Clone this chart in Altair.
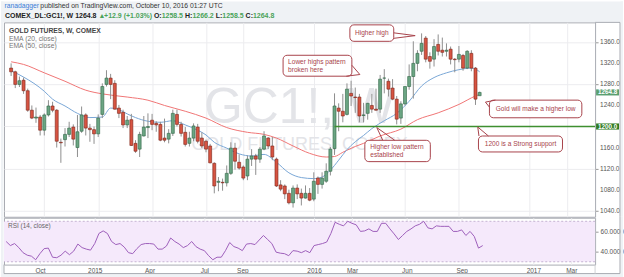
import altair as alt
import pandas as pd

# ---------------- data ----------------
week_start = "2014-08-11"
opens = [1311, 1304, 1280, 1288, 1268, 1231, 1216, 1218, 1193, 1222, 1239, 1231, 1170, 1175, 1185, 1199, 1160, 1191, 1222, 1197,
         1194, 1186, 1223, 1280, 1292, 1282, 1235, 1227, 1203, 1213, 1168, 1157, 1182, 1198, 1212, 1206, 1204, 1178, 1176, 1187,
         1223, 1204, 1189, 1168, 1178, 1199, 1178, 1172, 1163, 1130, 1094, 1094, 1093, 1111, 1159, 1132, 1123, 1106, 1138, 1144,
         1138, 1157, 1178, 1163, 1138, 1089, 1087, 1073, 1055, 1083, 1073, 1064, 1073, 1062, 1102, 1090, 1096, 1115, 1158, 1235,
         1229, 1223, 1263, 1256, 1256, 1221, 1225, 1240, 1233, 1233, 1292, 1286, 1273, 1252, 1216, 1243, 1276, 1295, 1320, 1343,
         1368, 1333, 1328, 1356, 1345, 1343, 1347, 1328, 1328, 1335, 1311, 1339, 1311, 1258.5]
highs = [1320, 1306, 1295, 1293, 1272, 1240, 1236, 1222, 1225, 1250, 1247, 1233, 1177, 1197, 1209, 1204, 1222, 1238, 1225, 1205,
         1200, 1223, 1282, 1307, 1300, 1288, 1241, 1232, 1220, 1224, 1174, 1190, 1220, 1225, 1224, 1210, 1209, 1215, 1195, 1232,
         1232, 1209, 1199, 1190, 1206, 1205, 1189, 1175, 1167, 1132, 1104, 1101, 1126, 1170, 1169, 1147, 1126, 1145, 1157, 1148,
         1161, 1191, 1180, 1180, 1141, 1098, 1090, 1080, 1088, 1090, 1082, 1088, 1083, 1113, 1105, 1113, 1130, 1161, 1263, 1244,
         1262, 1282, 1287, 1274, 1262, 1245, 1245, 1262, 1272, 1298, 1309, 1291, 1290, 1258, 1248, 1276, 1318, 1362, 1345, 1377,
         1372, 1341, 1366, 1375, 1369, 1358, 1352, 1330, 1353, 1338, 1345, 1345, 1313, 1266.2]
lows = [1296, 1273, 1275, 1262, 1228, 1214, 1207, 1183, 1183, 1219, 1227, 1160, 1131, 1162, 1180, 1164, 1142, 1188, 1183, 1171,
        1167, 1180, 1216, 1276, 1252, 1232, 1216, 1197, 1197, 1163, 1150, 1142, 1181, 1178, 1193, 1190, 1172, 1170, 1168, 1182,
        1200, 1181, 1162, 1162, 1172, 1168, 1159, 1151, 1130, 1073, 1077, 1078, 1086, 1108, 1118, 1118, 1098, 1098, 1125, 1108,
        1131, 1155, 1157, 1136, 1085, 1077, 1062, 1052, 1046, 1062, 1050, 1063, 1058, 1058, 1072, 1082, 1093, 1107, 1146, 1191,
        1208, 1221, 1239, 1226, 1208, 1208, 1213, 1226, 1230, 1226, 1263, 1257, 1250, 1204, 1205, 1240, 1270, 1253, 1305, 1336,
        1322, 1310, 1314, 1335, 1333, 1333, 1318, 1303, 1322, 1306, 1309, 1305, 1241, 1258.5]
closes = [1304, 1280, 1287, 1268, 1231, 1216, 1218, 1193, 1222, 1239, 1231, 1172, 1169, 1185, 1197, 1176, 1190, 1222, 1197, 1194,
          1186, 1216, 1276, 1292, 1280, 1233, 1225, 1203, 1212, 1164, 1153, 1185, 1199, 1200, 1204, 1203, 1174, 1174, 1187, 1225,
          1204, 1187, 1166, 1178, 1201, 1172, 1163, 1157, 1131, 1087, 1096, 1093, 1111, 1159, 1134, 1121, 1102, 1138, 1144, 1138,
          1157, 1182, 1163, 1142, 1087, 1081, 1072, 1055, 1083, 1072, 1064, 1073, 1060, 1096, 1090, 1102, 1115, 1157, 1239, 1229,
          1220, 1271, 1258, 1255, 1220, 1222, 1244, 1233, 1231, 1290, 1292, 1271, 1252, 1214, 1243, 1276, 1295, 1320, 1339, 1358,
          1328, 1324, 1352, 1343, 1341, 1345, 1328, 1327, 1337, 1311, 1343, 1311, 1252, 1264.8]

ema20_weeks = [1, 4, 9, 11, 14, 17, 20, 23, 25, 27, 29, 31, 34, 37, 40, 43, 46, 48, 50, 53, 56, 59, 62, 65, 68, 71,
               74, 76, 78, 80, 82, 84, 86, 88, 91, 94, 97, 100, 103, 106, 109, 112, 113, 114]
ema20_vals = [1306, 1294, 1267, 1252, 1239, 1225, 1217, 1218, 1235, 1232, 1224, 1217, 1210, 1208, 1211, 1203, 1193, 1184,
              1170, 1159, 1148, 1144, 1147, 1132, 1112, 1103, 1101, 1104, 1117, 1136, 1156, 1171, 1183, 1196, 1211, 1225,
              1248, 1277, 1293, 1302, 1308, 1311, 1309, 1304]
ema50_weeks = [1, 4, 9, 14, 19, 23, 29, 34, 38, 43, 48, 53, 58, 62, 65, 69, 73, 77, 79, 81, 84, 86, 90, 95, 99, 104,
               109, 113, 114]
ema50_vals = [1323, 1318, 1302, 1286, 1269, 1262, 1256, 1250, 1240, 1229, 1216, 1198, 1189, 1185, 1178, 1163, 1149, 1142,
              1143, 1151, 1162, 1168, 1182, 1195, 1213, 1226, 1242, 1258, 1261]
rsi_vals = [50, 46, 48, 44, 39, 36.5, 35.5, 32, 38, 43, 43.5, 34.5, 34, 36.5, 40.5, 37, 40.5, 47.5, 44, 42.5,
            41.5, 48, 58, 60.5, 58, 50, 47, 48, 44.5, 39, 38, 43, 47, 48, 48, 47.5, 42.5, 42.5, 45.5, 53.5,
            50, 47.5, 44, 46, 50, 45, 42.5, 41, 36, 32, 34.5, 34.5, 41, 49, 45, 43.5, 41, 47.5, 48, 47,
            51.5, 56, 52, 48, 39.5, 38.5, 38, 36, 41, 40.5, 39, 41, 39, 46, 47, 48, 49.5, 58, 69, 67,
            65.5, 70, 68, 66.5, 60, 60.5, 62.5, 60, 60, 68, 68, 62.5, 57.5, 52, 56, 60, 62.5, 65.5, 67, 70,
            63.5, 62.5, 65.5, 65, 65, 65, 60, 60, 61.5, 56, 60, 55, 43.5, 46]

tick_dates = [(2014, 10, 6), (2015, 1, 5), (2015, 4, 6), (2015, 7, 6), (2015, 9, 7), (2016, 1, 4),
              (2016, 3, 7), (2016, 6, 6), (2016, 9, 5), (2017, 1, 2), (2017, 3, 6)]
price_ticks = [1040, 1080, 1120, 1160, 1200, 1240, 1280, 1320, 1360]
price_labels = ["1040.0", "1080.0", "1120.0", "1160.0", "", "1240.0", "1280.0", "1320.0", "1360.0"]
rsi_ticks = [40, 60]
support_level = 1200
support_start = "2016-02-08"
last_price = 1264.8

# ---------------- tables ----------------
n = len(opens)
dates = [d.strftime("%Y-%m-%d") for d in pd.date_range(week_start, periods=n, freq="7D")]
cdf = pd.DataFrame({"date": dates, "open": opens, "high": highs, "low": lows, "close": closes})
cdf["dir"] = ["up" if c >= o else "down" for o, c in zip(opens, closes)]
e20 = pd.DataFrame({"date": [dates[i - 1] for i in ema20_weeks], "v": ema20_vals})
e50 = pd.DataFrame({"date": [dates[i - 1] for i in ema50_weeks], "v": ema50_vals})
rdf = pd.DataFrame({"date": dates, "v": rsi_vals})
sup = pd.DataFrame({"date": [support_start], "y": [support_level]})
plab = pd.DataFrame({"p": price_ticks, "lab": price_labels})
one = pd.DataFrame({"k": [0]})

W, H1, H2 = 593, 195, 47
FONT = "Liberation Sans"
BG = "#eff2f5"
BORDER = "#a9acb3"
CALL = "#a8434b"
GRID = "#ececef"


def dt(y, m, d, h=0):
    return alt.DateTime(year=y, month=m, date=d, hours=h, utc=True)


xscale = alt.Scale(type="utc", domain=[dt(2014, 8, 7, 9), dt(2017, 4, 14, 12)])
tick_vals = [dt(*t) for t in tick_dates]
label_expr = "utcmonth(datum.value) == 0 ? utcFormat(datum.value, '%Y') : utcFormat(datum.value, '%b')"
x_axis_main = alt.Axis(values=tick_vals, labels=False, ticks=False, domain=False, grid=True,
                       gridColor=GRID, title=None, minExtent=0, maxExtent=0)
x_axis_rsi = alt.Axis(values=tick_vals, labelExpr=label_expr, labelFont=FONT, labelFontSize=6.5,
                      labelColor="#555", ticks=False, domain=False, grid=True, gridColor=GRID,
                      labelPadding=3, labelOverlap=False, title=None)
y_scale_main = alt.Scale(domain=[1028.5, 1397.9], zero=False, nice=False)
y_axis_main = alt.Axis(orient="right", values=price_ticks, labels=False,
                       tickSize=3, tickColor="#999", domain=False, grid=True,
                       gridColor=GRID, title=None)
y_scale_rsi = alt.Scale(domain=[27.2, 73.5], zero=False, nice=False)
y_axis_rsi = alt.Axis(orient="right", values=rsi_ticks, format=".4f", labelFont=FONT, labelFontSize=6.5,
                      labelOverlap=False,
                      labelColor="#555", tickSize=3, tickColor="#999", domain=False, grid=True,
                      gridColor="#e6dcea", title=None, labelPadding=2)


def XM():
    return alt.X("date:T", scale=xscale, axis=x_axis_main)


def YM(f):
    return alt.Y(f, type="quantitative", scale=y_scale_main, axis=y_axis_main)


def prect(x1, y1, x2, y2, **kw):
    return alt.Chart(one).mark_rect(**kw).encode(x=alt.value(x1), x2=alt.value(x2), y=alt.value(y1), y2=alt.value(y2))


def ptext(x, y, s, **kw):
    base = dict(font=FONT, fontSize=7, baseline="middle", align="left")
    base.update(kw)
    return alt.Chart(one).mark_text(**base).encode(x=alt.value(x), y=alt.value(y), text=alt.value(s))


def pline(x1, y1, x2, y2, **kw):
    return alt.Chart(one).mark_rule(**kw).encode(x=alt.value(x1), x2=alt.value(x2), y=alt.value(y1), y2=alt.value(y2))


# ---------------- main pane ----------------
layers = []
# watermark
layers.append(ptext(W / 2, 101, "GC1!, W", fontSize=50, align="center", baseline="alphabetic", color="#e3e4e8"))
layers.append(ptext(W / 2, 128, "GOLD FUTURES, COMEX", fontSize=18, align="center", baseline="alphabetic", color="#e3e4e8"))
# EMAs
layers.append(alt.Chart(e50).mark_line(color="#f07575", strokeWidth=1, interpolate="monotone").encode(x=XM(), y=YM("v")))
layers.append(alt.Chart(e20).mark_line(color="#79a7d6", strokeWidth=1, interpolate="monotone").encode(x=XM(), y=YM("v")))
# candles
layers.append(alt.Chart(cdf).mark_rule(color="#8f8f8f", strokeWidth=1).encode(x=XM(), y=YM("low"), y2="high"))
layers.append(alt.Chart(cdf).mark_bar(size=3, strokeWidth=0.6).encode(
    x=XM(), y=YM("open"), y2="close",
    fill=alt.Fill("dir:N", scale=alt.Scale(domain=["up", "down"], range=["#6ba583", "#d75442"]), legend=None),
    stroke=alt.Stroke("dir:N", scale=alt.Scale(domain=["up", "down"], range=["#2f6544", "#7a2318"]), legend=None)))
# support line
layers.append(alt.Chart(sup).mark_rule(color="#3f8f30", strokeWidth=1.4).encode(
    x=XM(), x2=alt.value(W), y=YM("y")))
# price scale labels
layers.append(alt.Chart(plab).mark_text(font=FONT, fontSize=6.5, color="#555", align="left", baseline="middle").encode(
    x=alt.value(W + 5), y=YM("p"), text="lab:N"))
# legend texts
layers.append(ptext(5, 9, "GOLD FUTURES, W, COMEX", color="#444", fontWeight="bold", fontSize=6.8))
layers.append(ptext(5, 16.7, "EMA (20, close)", color="#777", fontSize=6.8))
layers.append(ptext(5, 24, "EMA (50, close)", color="#777", fontSize=6.8))


# callouts
def callout(x1, y1, x2, y2, lines, tail, tx=None, align="center"):
    out = [prect(x1, y1, x2, y2, fill="white", stroke=CALL, strokeWidth=1, cornerRadius=4)]
    (bx1, by1), (bx2, by2), (tx_, ty_) = tail
    out.append(pline(bx1, by1, tx_, ty_, color=CALL, strokeWidth=1))
    out.append(pline(bx2, by2, tx_, ty_, color=CALL, strokeWidth=1))
    k = len(lines)
    cy = (y1 + y2) / 2
    step = 8.2
    for j, s in enumerate(lines):
        yy = cy + (j - (k - 1) / 2) * step
        if align == "center":
            out.append(ptext((x1 + x2) / 2, yy, s, align="center", color=CALL, fontSize=6.6))
        else:
            out.append(ptext(tx, yy, s, align="left", color=CALL, fontSize=6.6))
    return out


layers += callout(347, 2.5, 391, 19, ["Higher high"], ((391, 10.5), (391, 16), (412.5, 13.3)))
layers += callout(280, 33, 349, 54, ["Lower highs pattern", "broken here"], ((349, 43), (343.5, 54), (357, 52.3)),
                  tx=285, align="left")
layers += callout(362, 118.3, 427.7, 139.7, ["Higher low pattern", "established"],
                  ((380, 118.3), (392, 118.3), (374, 105.5)), tx=367.5, align="left")
layers += callout(487, 78, 579.7, 95.7, ["Gold will make a higher low"], ((487, 85), (493, 78), (483, 80)))
layers += callout(476, 114, 560.3, 130, ["1200 is a Strong support"], ((476.5, 114), (486, 114), (475.3, 105)))

# price tags on the axis
layers.append(alt.Chart(one).mark_rect(color="#5a9f70").encode(
    x=alt.value(594), x2=alt.value(617), y=alt.datum(last_price + 5.8), y2=alt.datum(last_price - 5.8)))
layers.append(alt.Chart(one).mark_text(font=FONT, fontSize=6.3, fontWeight="bold", color="white").encode(
    x=alt.value(605.5), y=alt.datum(last_price), text=alt.value("1264.8")))
layers.append(alt.Chart(one).mark_rect(color="#2f7b22").encode(
    x=alt.value(594), x2=alt.value(617), y=alt.datum(support_level + 5.8), y2=alt.datum(support_level - 5.8)))
layers.append(alt.Chart(one).mark_text(font=FONT, fontSize=6.3, fontWeight="bold", color="white").encode(
    x=alt.value(605.5), y=alt.datum(support_level), text=alt.value("1200.0")))

# frame + header band
layers.append(prect(-3, -21, 621, -0.5, color=BG))
layers.append(prect(-3, -21, -0.5, H1, color=BG))
layers.append(prect(618.5, -21, 621, H1, color=BG))
layers.append(pline(593, 0, 618, 0, color=BORDER, strokeWidth=1))
layers.append(pline(618, 0, 618, H1, color=BORDER, strokeWidth=1))

# header texts
layers.append(ptext(0.5, -16, "ranadagger", color="#3b7dd8", fontSize=6.8))
layers.append(ptext(36.5, -16, "published on TradingView.com, October 10, 2016 01:27 UTC", color="#333", fontSize=6.8))
hdr = [(1, "COMEX_DL:GC1!, W", "#222"), (71.4, "1264.8", "#222"), (94.8, "\u25B2", "#4ba35a"),
       (100.4, "+12.9 (+1.03%)", "#4ba35a"), (150.4, "O:", "#222"), (158.2, "1258.5", "#4ba35a"),
       (181.6, "H:", "#222"), (189, "1266.2", "#4ba35a"), (212.4, "L:", "#222"), (219, "1258.5", "#4ba35a"),
       (242.4, "C:", "#222"), (249.8, "1264.8", "#4ba35a")]
for hx, s, c in hdr:
    layers.append(ptext(hx, -6, s, color=c, fontSize=7, fontWeight="bold"))

main = alt.layer(*layers).properties(width=W, height=H1)


# ---------------- RSI pane ----------------
def XR():
    return alt.X("date:T", scale=xscale, axis=x_axis_rsi)


def YR(f):
    return alt.Y(f, type="quantitative", scale=y_scale_rsi, axis=y_axis_rsi)


rl = []
rl.append(alt.Chart(one).mark_rect(color="#f5e9fb").encode(
    x=alt.value(0), x2=alt.value(W), y=alt.datum(70), y2=alt.datum(30)))
for lvl in (70, 30):
    rl.append(alt.Chart(one).mark_rule(color="#b9a3c6", strokeDash=[2, 2], strokeWidth=0.8).encode(
        y=alt.datum(lvl)))
rl.append(alt.Chart(rdf).mark_line(color="#9e5fbb", strokeWidth=1).encode(x=XR(), y=YR("v")))
rl.append(ptext(4, 8, "RSI (14, close)", color="#666", fontSize=6.5))
rl.append(prect(-3, -1, -0.5, 60, color=BG))
rl.append(prect(618.5, -1, 621, 60, color=BG))
rl.append(prect(-3, 56.5, 621, 60, color=BG))
rl.append(pline(618, -1, 618, 56, color=BORDER, strokeWidth=1))
rl.append(pline(0, 47, 0, 56, color=BORDER, strokeWidth=1))
rl.append(pline(0, 56, 618, 56, color=BORDER, strokeWidth=1))
rl.append(pline(593, 47, 593, 56, color="#d0d2d6", strokeWidth=1))
rsi = alt.layer(*rl).properties(width=W, height=H2)

chart = alt.vconcat(main, rsi, spacing=1, bounds="flush").properties(
    padding={"left": 0, "top": 0, "right": 0, "bottom": 0}
).configure(background="white").configure_axis(labelOverlap=False).configure_view(stroke=BORDER, strokeWidth=1)

chart.save("out.html", embed_options={"renderer": "svg", "actions": False})
